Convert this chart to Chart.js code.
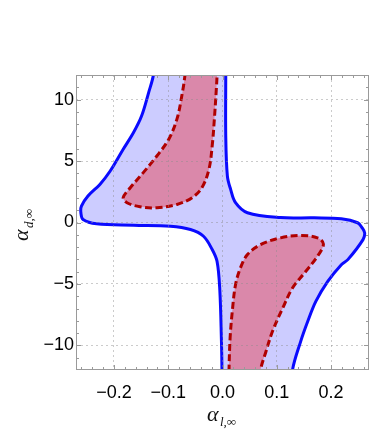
<!DOCTYPE html>
<html>
<head>
<meta charset="utf-8">
<script src="https://cdn.jsdelivr.net/npm/chart.js@4.4.1/dist/chart.umd.min.js"></script>
<style>
  html, body { margin: 0; padding: 0; background: #fff; }
  #wrap { width: 379px; height: 446px; }
</style>
</head>
<body>
<div id="wrap"><canvas id="contourChart" width="379" height="446"></canvas></div>
<script>
// axis ticks
const xTicks = [-0.2, -0.1, 0, 0.1, 0.2];
const xTickLabels = ['\u22120.2', '\u22120.1', '0.0', '0.1', '0.2'];
const yTicks = [-10, -5, 0, 5, 10];
const yTickLabels = ['\u221210', '\u22125', '0', '5', '10'];

// outer (blue) confidence region
const outerX = [-0.128, -0.127, -0.136, -0.149, -0.164, -0.183, -0.207, -0.226, -0.248, -0.260, -0.261, -0.257,
    -0.232, -0.164, -0.096, -0.059, -0.035, -0.019, -0.010, -0.005, -0.002, -0.001, -0.001,
    0.131, 0.129, 0.144, 0.157, 0.172, 0.194, 0.219, 0.231, 0.259, 0.262, 0.257, 0.249,
    0.219, 0.169, 0.107, 0.046, 0.024, 0.015, 0.009, 0.006, 0.006, 0.006, -0.128];
const outerY = [13, 12.08, 10.59, 8.68, 7.32, 5.96, 4.19, 3.10, 2.15, 1.33, 0.79, 0.24,
    -0.11, -0.22, -0.30, -0.57, -1.12, -2.20, -3.18, -5.47, -9.55, -12.0, -13,
    -13, -12.0, -9.69, -8.06, -6.42, -4.79, -3.43, -3.02, -1.39, -0.84, -0.41, -0.02,
    0.30, 0.38, 0.40, 0.79, 1.61, 2.69, 3.78, 7.04, 12.08, 13, 13];

// inner (red) regions
const innerUpX = [-0.069, -0.069, -0.075, -0.084, -0.099, -0.121, -0.146, -0.170, -0.183, -0.176, -0.152,
    -0.121, -0.084, -0.056, -0.038, -0.025, -0.019, -0.015, -0.011, -0.010, -0.010, -0.069];
const innerUpY = [13, 12.08, 10.31, 8.41, 6.78, 5.41, 4.06, 2.83, 2.02, 1.61, 1.28,
    1.20, 1.47, 2.02, 2.83, 4.33, 6.23, 8.41, 11.13, 12.08, 13, 13];
const innerLowX = [0.012, 0.012, 0.014, 0.018, 0.024, 0.033, 0.046, 0.070, 0.107, 0.144, 0.175, 0.186,
    0.175, 0.151, 0.129, 0.111, 0.092, 0.080, 0.070, 0.069, 0.012];
const innerLowY = [-13, -12.0, -9.41, -7.24, -5.06, -3.70, -2.61, -1.80, -1.25, -1.06, -1.25, -1.75,
    -2.75, -4.11, -5.33, -6.96, -8.87, -10.51, -12.0, -13, -13];

const toPoints = (xs, ys) => xs.map((x, i) => ({ x: x, y: ys[i] }));

// frame with inward ticks on all four sides + math axis titles
const frameAndTitles = {
    id: 'frameAndTitles',
    afterDraw(chart) {
        const { ctx, chartArea: a, scales: { x, y } } = chart;
        ctx.save();
        ctx.strokeStyle = '#9a9a9a';
        ctx.lineWidth = 1;
        ctx.strokeRect(a.left + 0.5, a.top + 0.5, a.right - a.left - 1, a.bottom - a.top - 1);

        ctx.beginPath();
        for (let k = -13; k <= 13; k++) {
            const v = k * 0.02;
            const px = Math.round(x.getPixelForValue(v)) + 0.5;
            if (px <= a.left + 1 || px >= a.right - 1) continue;
            const len = (k % 5 === 0) ? 5 : 3;
            ctx.moveTo(px, a.bottom); ctx.lineTo(px, a.bottom - len);
            ctx.moveTo(px, a.top); ctx.lineTo(px, a.top + len);
        }
        for (let v = -11; v <= 11; v++) {
            const py = Math.round(y.getPixelForValue(v)) + 0.5;
            const len = (v % 5 === 0) ? 5 : 3;
            ctx.moveTo(a.left, py); ctx.lineTo(a.left + len, py);
            ctx.moveTo(a.right, py); ctx.lineTo(a.right - len, py);
        }
        ctx.stroke();

        ctx.fillStyle = '#111';
        ctx.textBaseline = 'alphabetic';
        ctx.textAlign = 'left';
        // x title
        ctx.font = 'italic 22px "Liberation Serif", serif';
        ctx.fillText('\u03b1', 207, 421);
        ctx.font = 'italic 13px "Liberation Serif", serif';
        ctx.fillText('l,\u221e', 220, 426);
        // y title
        ctx.translate(0, 241);
        ctx.rotate(-Math.PI / 2);
        ctx.font = 'italic 22px "Liberation Serif", serif';
        ctx.fillText('\u03b1', 0, 28);
        ctx.font = 'italic 13px "Liberation Serif", serif';
        ctx.fillText('d,\u221e', 13, 33);
        ctx.restore();
    }
};

const tickFont = { family: '"Liberation Sans", Arial, sans-serif', size: 18 };

new Chart(document.getElementById('contourChart'), {
    type: 'line',
    data: {
        datasets: [
            {
                data: toPoints(innerUpX, innerUpY),
                borderColor: '#b00000',
                backgroundColor: 'rgb(218, 136, 170)',
                borderWidth: 3,
                borderDash: [7, 3.5],
                fill: 'shape',
                tension: 0.35,
                pointRadius: 0,
                order: 1
            },
            {
                data: toPoints(innerLowX, innerLowY),
                borderColor: '#b00000',
                backgroundColor: 'rgb(218, 136, 170)',
                borderWidth: 3,
                borderDash: [7, 3.5],
                fill: 'shape',
                tension: 0.35,
                pointRadius: 0,
                order: 1
            },
            {
                data: toPoints(outerX, outerY),
                borderColor: '#0a0aff',
                backgroundColor: 'rgb(204, 204, 255)',
                borderWidth: 3,
                fill: 'shape',
                tension: 0.35,
                pointRadius: 0,
                order: 2
            }
        ]
    },
    options: {
        responsive: false,
        animation: false,
        layout: { padding: { top: 75, right: 10, left: 0, bottom: 0 } },
        plugins: {
            legend: { display: false },
            tooltip: { enabled: false }
        },
        scales: {
            x: {
                type: 'linear',
                min: -0.27,
                max: 0.27,
                afterBuildTicks: (scale) => { scale.ticks = xTicks.map(v => ({ value: v })); },
                afterFit: (scale) => { scale.height = 76; },
                grid: { color: 'rgba(140, 140, 140, 0.45)', drawTicks: false, z: 1 },
                border: { display: false, dash: [2, 3] },
                ticks: {
                    font: tickFont,
                    color: '#000',
                    padding: 12,
                    maxRotation: 0,
                    callback: (value) => xTickLabels[xTicks.indexOf(value)]
                }
            },
            y: {
                type: 'linear',
                min: -12,
                max: 12,
                afterBuildTicks: (scale) => { scale.ticks = yTicks.map(v => ({ value: v })); },
                afterFit: (scale) => { scale.width = 76; },
                grid: { color: 'rgba(140, 140, 140, 0.45)', drawTicks: false, z: 1 },
                border: { display: false, dash: [2, 3] },
                ticks: {
                    font: tickFont,
                    color: '#000',
                    padding: 2,
                    callback: (value) => yTickLabels[yTicks.indexOf(value)]
                }
            }
        }
    },
    plugins: [frameAndTitles]
});
</script>
</body>
</html>
